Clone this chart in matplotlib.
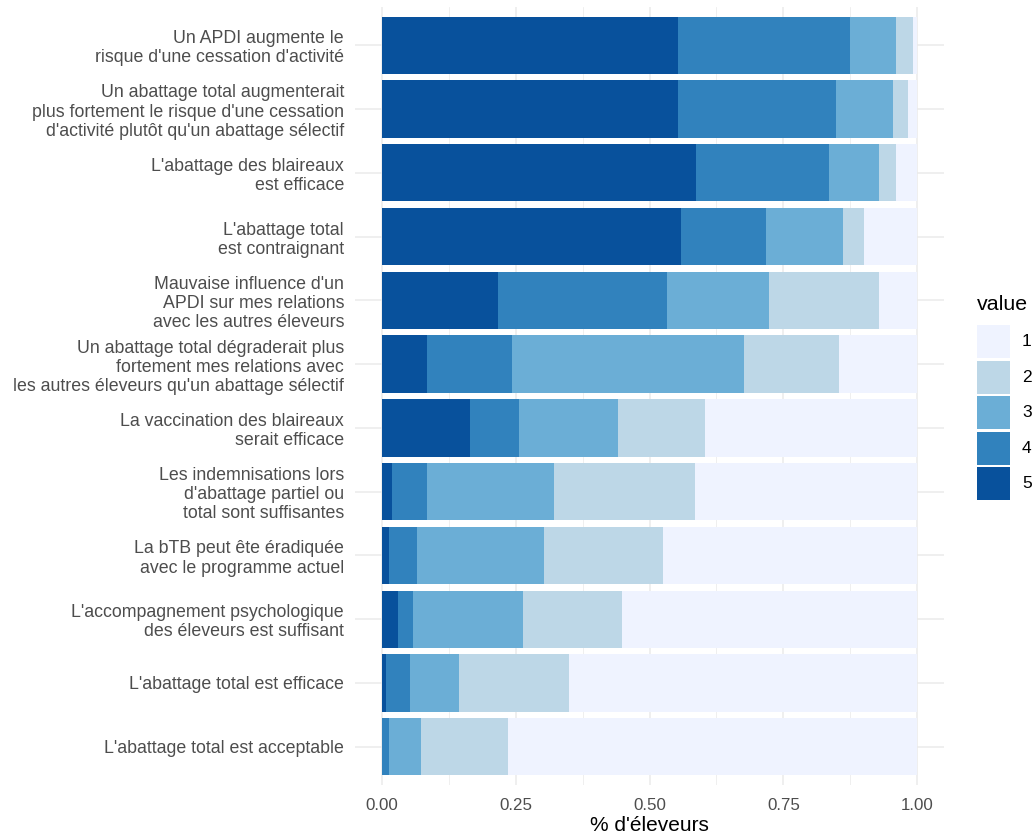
import matplotlib
matplotlib.use("Agg")
import matplotlib.pyplot as plt
from matplotlib.patches import Rectangle
import numpy as np

plt.rcParams['font.family'] = ['Liberation Sans', 'DejaVu Sans']

# statements, top to bottom
labels = [
    "Un APDI augmente le\nrisque d'une cessation d'activité",
    "Un abattage total augmenterait\nplus fortement le risque d'une cessation\nd'activité plutôt qu'un abattage sélectif",
    "L'abattage des blaireaux\nest efficace",
    "L'abattage total\nest contraignant",
    "Mauvaise influence d'un\nAPDI sur mes relations\navec les autres éleveurs",
    "Un abattage total dégraderait plus\nfortement mes relations avec\nles autres éleveurs qu'un abattage sélectif",
    "La vaccination des blaireaux\nserait efficace",
    "Les indemnisations lors\nd'abattage partiel ou\ntotal sont suffisantes",
    "La bTB peut ête éradiquée\navec le programme actuel",
    "L'accompagnement psychologique\ndes éleveurs est suffisant",
    "L'abattage total est efficace",
    "L'abattage total est acceptable",
]

# share of farmers per answer value (same order as labels)
v5 = [0.554, 0.554, 0.586, 0.558, 0.217, 0.084, 0.165, 0.020, 0.013, 0.031, 0.007, 0.000]
v4 = [0.321, 0.294, 0.250, 0.159, 0.316, 0.159, 0.092, 0.064, 0.053, 0.028, 0.045, 0.013]
v3 = [0.085, 0.106, 0.092, 0.145, 0.190, 0.434, 0.184, 0.237, 0.237, 0.205, 0.092, 0.060]
v2 = [0.032, 0.028, 0.032, 0.039, 0.205, 0.177, 0.163, 0.264, 0.223, 0.184, 0.205, 0.163]
v1 = [0.008, 0.018, 0.040, 0.099, 0.072, 0.146, 0.396, 0.415, 0.474, 0.552, 0.651, 0.764]

levels = ['5', '4', '3', '2', '1']
series = [v5, v4, v3, v2, v1]
legend_levels = ['1', '2', '3', '4', '5']
colors = {'1': '#EFF3FF', '2': '#BDD7E7', '3': '#6BAED6', '4': '#3182BD', '5': '#08519C'}

W, H = 1035, 840
fig = plt.figure(figsize=(W / 100, H / 100), dpi=100)
ax = fig.add_axes([355 / W, 1 - 785 / H, (944 - 355) / W, (785 - 7) / H])

y = np.arange(len(labels))[::-1]
left = np.zeros(len(labels))
for lev, vals in zip(levels, series):
    vals = np.array(vals)
    ax.barh(y, vals, left=left, height=0.9, color=colors[lev], linewidth=0, zorder=2)
    left += vals

ax.set_xlim(-0.05, 1.05)
ax.set_ylim(-0.6, len(labels) - 0.4)
ax.set_xticks([0, 0.25, 0.5, 0.75, 1.0])
ax.set_xticklabels(['0.00', '0.25', '0.50', '0.75', '1.00'])
ax.set_xticks([0.125, 0.375, 0.625, 0.875], minor=True)
ax.set_yticks(y)
ax.set_yticklabels(labels, linespacing=1.17, multialignment='right')
ax.grid(True, which='major', color='#EBEBEB', lw=1.1, zorder=0)
ax.grid(True, which='minor', axis='x', color='#EBEBEB', lw=0.55, zorder=0)
ax.tick_params(which='both', length=0, labelcolor='#4D4D4D')
ax.tick_params(axis='y', pad=7.9, labelsize=12.8)
ax.tick_params(axis='x', pad=9.5, labelsize=12.2)
for s in ax.spines.values():
    s.set_visible(False)
ax.set_xlabel("% d'éleveurs", fontsize=15, labelpad=2)

# legend drawn in pixel coordinates
lax = fig.add_axes([0, 0, 1, 1])
lax.set_xlim(0, W)
lax.set_ylim(H, 0)
lax.axis('off')
lax.text(977, 305, 'value', fontsize=15.4, ha='left', va='center')
for i, k in enumerate(legend_levels):
    top = 325 + i * 35.6
    lax.add_patch(Rectangle((977, top), 33, 33, facecolor=colors[k], edgecolor='none'))
    lax.text(1022, top + 16.5, k, fontsize=12.5, ha='left', va='center')

fig.savefig('out.png', dpi=100)
